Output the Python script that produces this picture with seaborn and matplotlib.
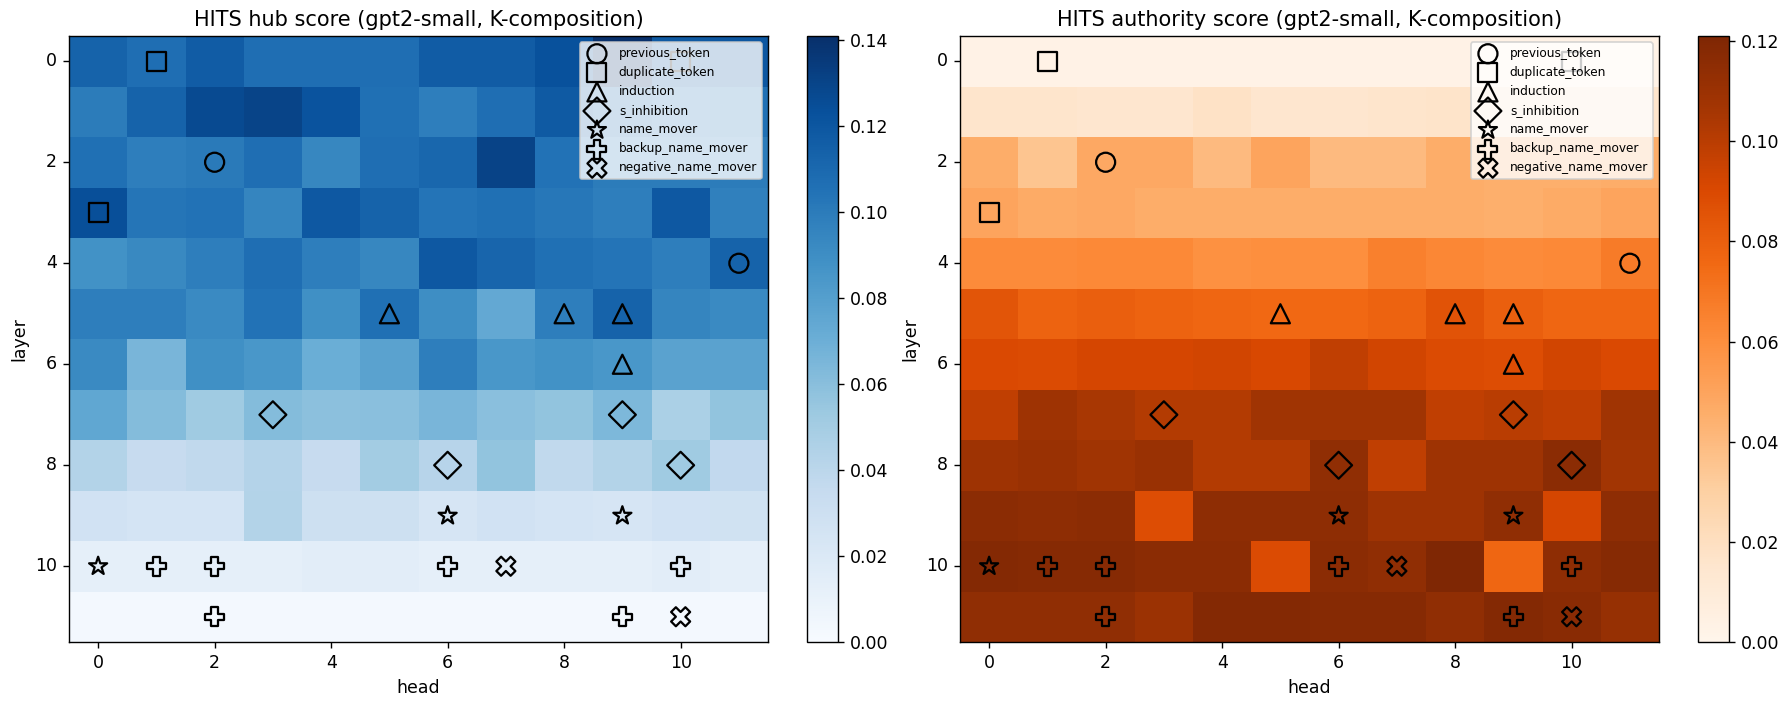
import numpy as np
import pandas as pd
import seaborn as sns
from matplotlib import pyplot as plt

# layer x head (12 x 12) HITS scores
hub = np.array([
    [0.113, 0.107, 0.117, 0.107, 0.107, 0.107, 0.117, 0.117, 0.123, 0.141, 0.118, 0.120],
    [0.100, 0.113, 0.127, 0.130, 0.122, 0.106, 0.099, 0.107, 0.118, 0.110, 0.105, 0.106],
    [0.106, 0.099, 0.101, 0.107, 0.094, 0.107, 0.111, 0.131, 0.105, 0.100, 0.100, 0.100],
    [0.124, 0.103, 0.105, 0.095, 0.119, 0.113, 0.104, 0.106, 0.102, 0.099, 0.119, 0.098],
    [0.088, 0.093, 0.099, 0.107, 0.099, 0.094, 0.119, 0.112, 0.106, 0.104, 0.099, 0.113],
    [0.099, 0.099, 0.092, 0.105, 0.089, 0.106, 0.090, 0.074, 0.099, 0.113, 0.095, 0.092],
    [0.092, 0.066, 0.089, 0.085, 0.071, 0.078, 0.099, 0.085, 0.088, 0.085, 0.078, 0.078],
    [0.075, 0.062, 0.052, 0.062, 0.059, 0.060, 0.066, 0.060, 0.057, 0.064, 0.047, 0.057],
    [0.044, 0.035, 0.038, 0.043, 0.035, 0.051, 0.042, 0.057, 0.038, 0.044, 0.052, 0.037],
    [0.027, 0.025, 0.025, 0.044, 0.030, 0.030, 0.024, 0.027, 0.025, 0.024, 0.027, 0.028],
    [0.013, 0.013, 0.013, 0.013, 0.015, 0.015, 0.013, 0.013, 0.013, 0.013, 0.015, 0.013],
    [0.003, 0.003, 0.003, 0.003, 0.003, 0.003, 0.003, 0.003, 0.003, 0.003, 0.003, 0.003],
])

authority = np.array([
    [0.003, 0.003, 0.003, 0.003, 0.003, 0.003, 0.003, 0.003, 0.003, 0.003, 0.003, 0.003],
    [0.016, 0.016, 0.015, 0.015, 0.018, 0.015, 0.015, 0.016, 0.017, 0.016, 0.016, 0.016],
    [0.046, 0.035, 0.048, 0.048, 0.040, 0.050, 0.040, 0.040, 0.046, 0.045, 0.045, 0.046],
    [0.050, 0.047, 0.048, 0.046, 0.046, 0.046, 0.046, 0.046, 0.046, 0.045, 0.047, 0.050],
    [0.061, 0.061, 0.062, 0.062, 0.059, 0.060, 0.060, 0.066, 0.063, 0.061, 0.062, 0.068],
    [0.085, 0.078, 0.080, 0.078, 0.077, 0.076, 0.076, 0.078, 0.086, 0.080, 0.077, 0.077],
    [0.090, 0.089, 0.092, 0.092, 0.093, 0.091, 0.098, 0.093, 0.089, 0.088, 0.093, 0.090],
    [0.098, 0.109, 0.105, 0.102, 0.102, 0.108, 0.108, 0.108, 0.098, 0.100, 0.098, 0.108],
    [0.109, 0.111, 0.108, 0.111, 0.102, 0.102, 0.114, 0.098, 0.109, 0.109, 0.116, 0.107],
    [0.116, 0.115, 0.116, 0.088, 0.115, 0.115, 0.115, 0.109, 0.109, 0.114, 0.092, 0.115],
    [0.119, 0.118, 0.118, 0.116, 0.116, 0.089, 0.116, 0.114, 0.121, 0.077, 0.115, 0.118],
    [0.114, 0.114, 0.114, 0.110, 0.119, 0.119, 0.118, 0.118, 0.114, 0.119, 0.117, 0.112],
])

# head classes: (head, layer) positions
roles = ['previous_token', 'duplicate_token', 'induction', 's_inhibition',
         'name_mover', 'backup_name_mover', 'negative_name_mover']
role_markers = ['o', 's', '^', 'D', '*', 'P', 'X']
role_heads = [
    [(2, 2), (11, 4)],
    [(1, 0), (0, 3), (10, 0)],
    [(5, 5), (8, 5), (9, 5), (9, 6)],
    [(3, 7), (9, 7), (6, 8), (10, 8)],
    [(6, 9), (9, 9), (0, 10)],
    [(1, 10), (2, 10), (6, 10), (10, 10), (2, 11), (9, 11)],
    [(7, 10), (10, 11)],
]

W, H, DPI = 1788, 708, 125
fig = plt.figure(figsize=(W / DPI, H / DPI), dpi=DPI)


def panel(ax, cax, scores, cmap, title):
    sns.heatmap(scores, cmap=cmap, vmin=0, ax=ax, cbar_ax=cax)
    for sp in ax.spines.values():
        sp.set_visible(True)
        sp.set_linewidth(0.8)
    cb = ax.collections[0].colorbar
    cb.outline.set_visible(True)
    cb.outline.set_linewidth(0.8)
    cb.ax.tick_params(labelsize=10)

    for role, m, pts in zip(roles, role_markers, role_heads):
        df = pd.DataFrame(pts, columns=['head', 'layer'])
        ax.scatter(df['head'] + 0.5, df['layer'] + 0.5, marker=m, s=120,
                   facecolors='none', edgecolors='black', linewidths=1.3,
                   label=role, zorder=3)

    ticks = np.arange(0, 12, 2)
    ax.set_xticks(ticks + 0.5)
    ax.set_xticklabels(ticks, rotation=0)
    ax.set_yticks(ticks + 0.5)
    ax.set_yticklabels(ticks, rotation=0)
    ax.tick_params(labelsize=10)
    ax.set_xlabel('head')
    ax.set_ylabel('layer')
    ax.set_title(title, fontsize=12)
    ax.legend(loc='upper right', fontsize=7)


bottom = 1 - 642 / H
height = (642 - 36) / H
ax1 = fig.add_axes([69 / W, bottom, 699 / W, height])
cax1 = fig.add_axes([807 / W, bottom, 31 / W, height])
ax2 = fig.add_axes([960 / W, bottom, 699 / W, height])
cax2 = fig.add_axes([1698 / W, bottom, 31 / W, height])

panel(ax1, cax1, hub, 'Blues', 'HITS hub score (gpt2-small, K-composition)')
panel(ax2, cax2, authority, 'Oranges', 'HITS authority score (gpt2-small, K-composition)')

plt.savefig('out.png', dpi=DPI)
